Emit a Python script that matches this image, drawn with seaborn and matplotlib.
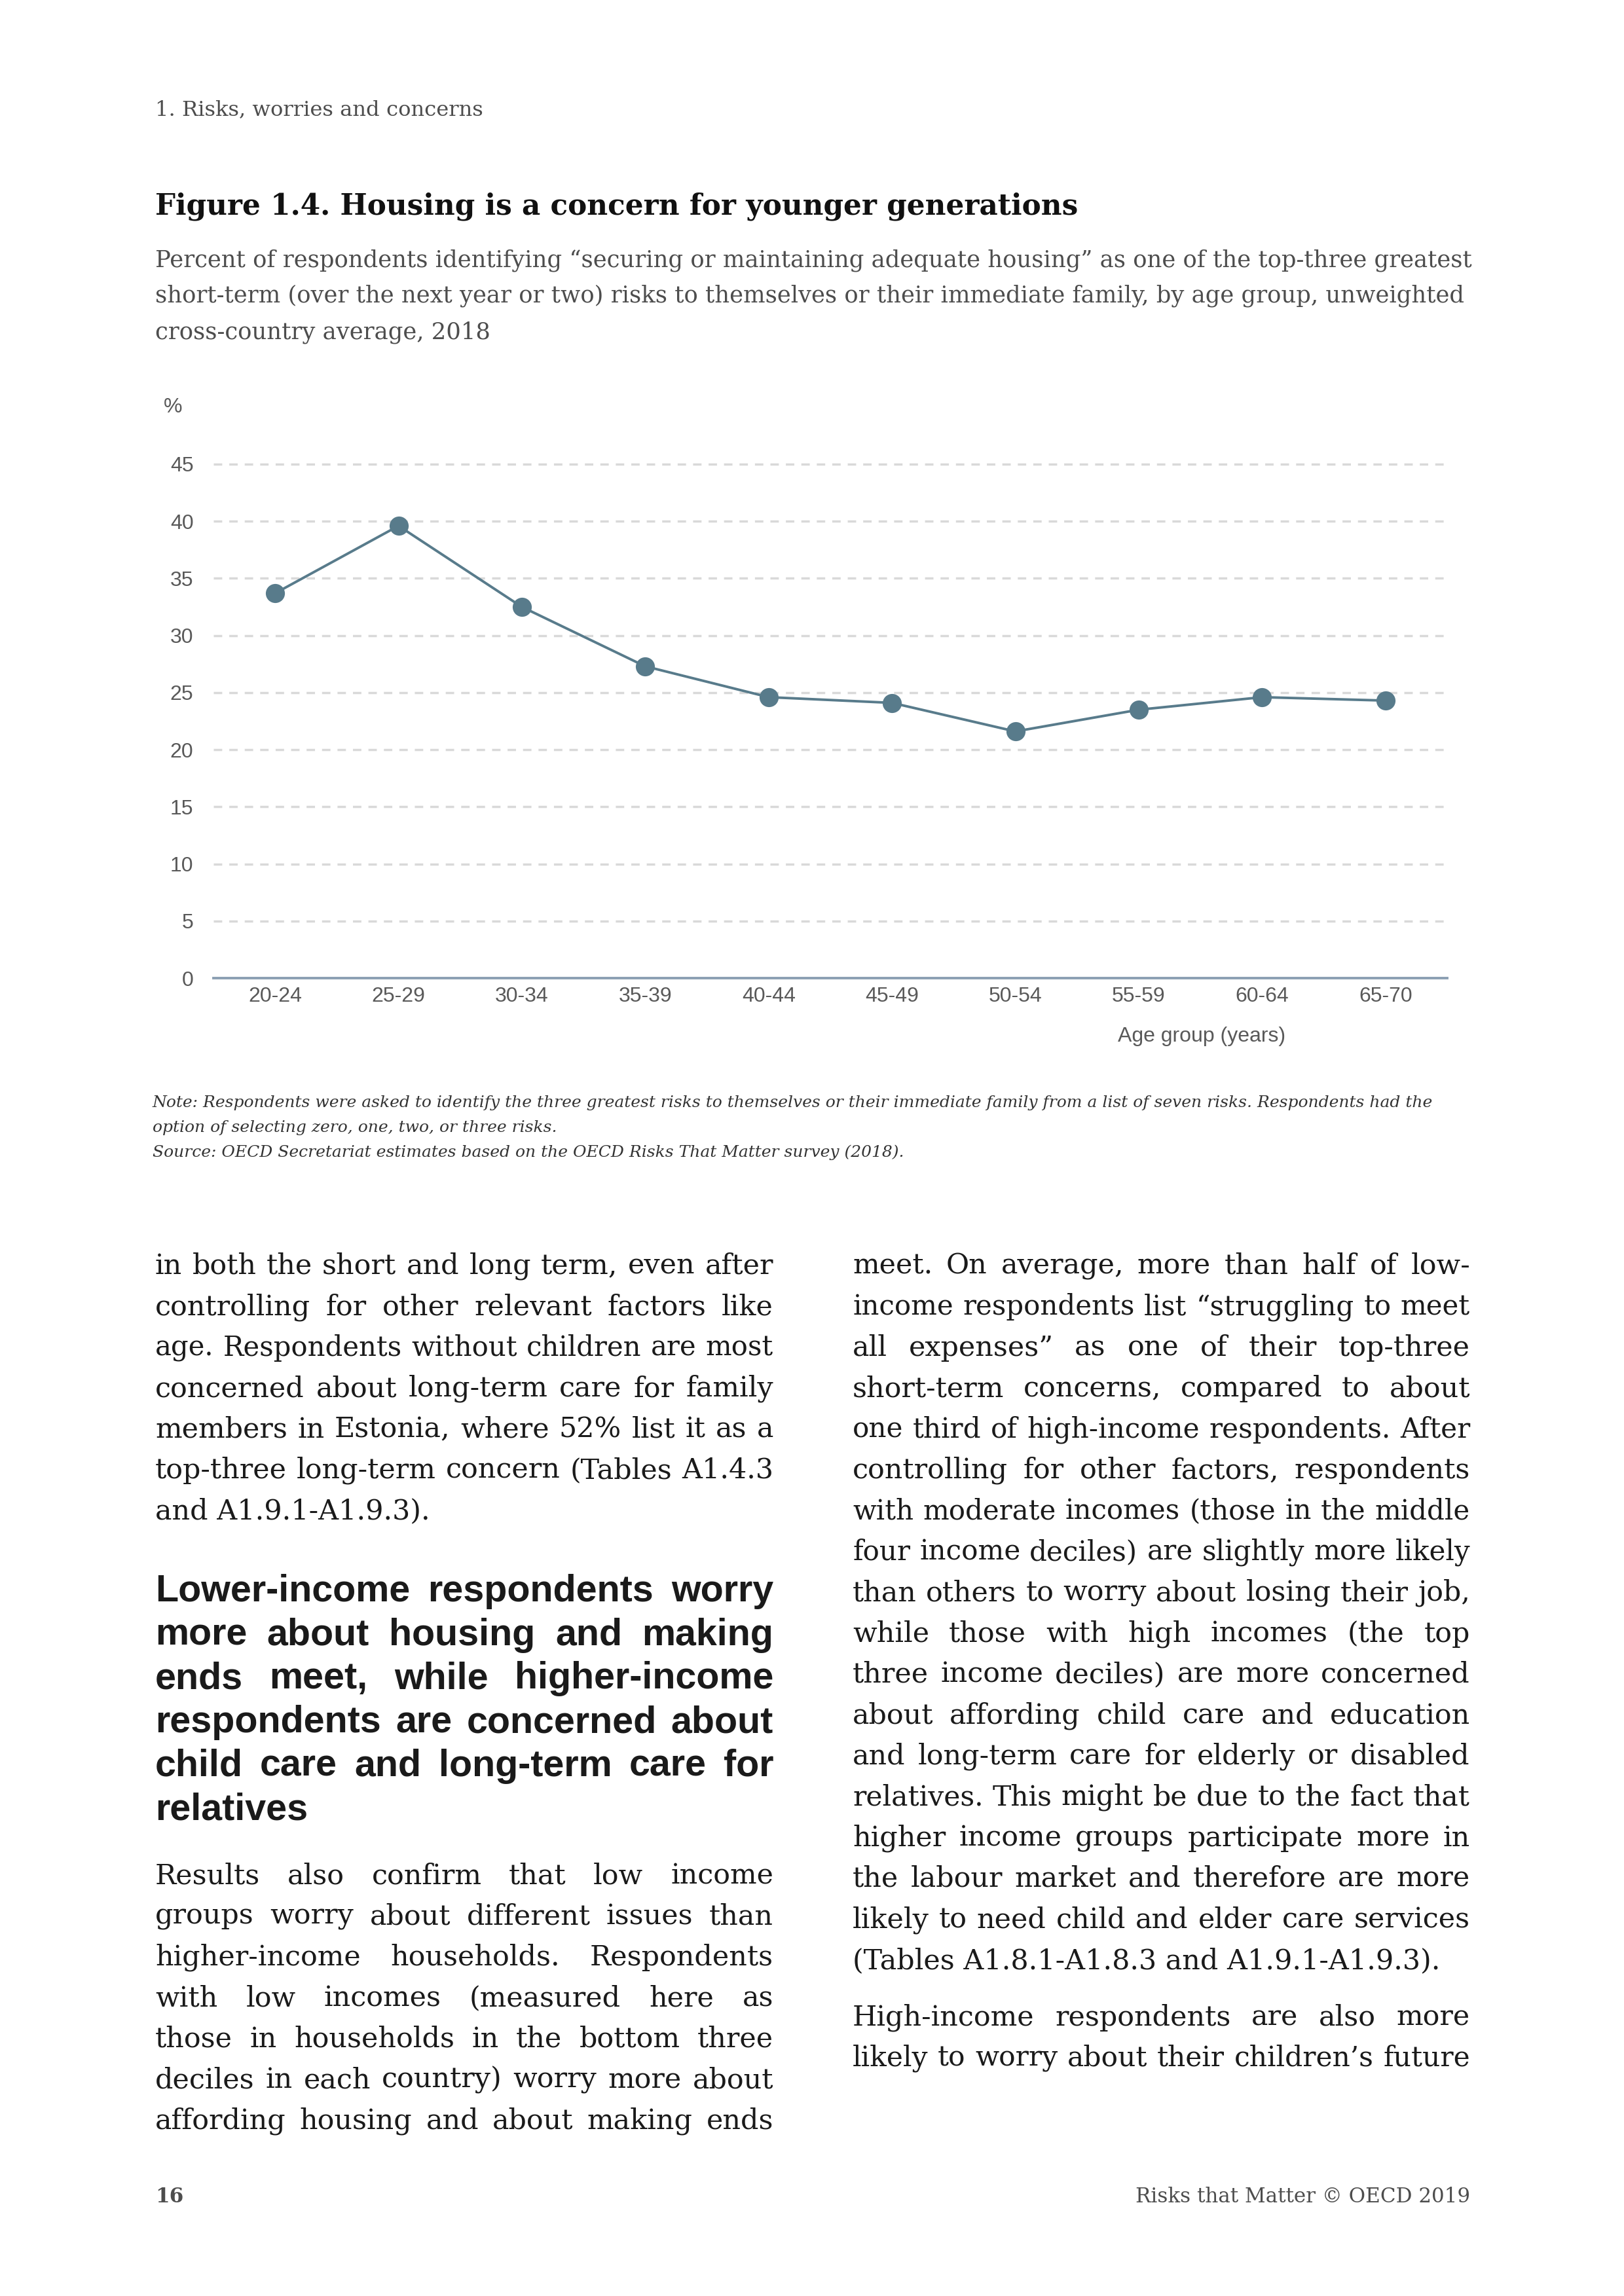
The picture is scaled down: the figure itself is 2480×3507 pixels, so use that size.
import matplotlib
matplotlib.use("Agg")
import matplotlib.pyplot as plt
import seaborn as sns
import pandas as pd

# chart data
age_groups = ["20-24", "25-29", "30-34", "35-39", "40-44", "45-49", "50-54", "55-59", "60-64", "65-70"]
housing_pct = [33.7, 39.6, 32.5, 27.3, 24.6, 24.1, 21.6, 23.5, 24.6, 24.3]
y_ticks = [0, 5, 10, 15, 20, 25, 30, 35, 40, 45]

# page text
header = "1. Risks, worries and concerns"
title = "Figure 1.4. Housing is a concern for younger generations"
subtitle = [
    "Percent of respondents identifying \u201csecuring or maintaining adequate housing\u201d as one of the top-three greatest",
    "short-term (over the next year or two) risks to themselves or their immediate family, by age group, unweighted",
    "cross-country average, 2018",
]
notes = [
    "Note: Respondents were asked to identify the three greatest risks to themselves or their immediate family from a list of seven risks. Respondents had the",
    "option of selecting zero, one, two, or three risks.",
    "Source: OECD Secretariat estimates based on the OECD Risks That Matter survey (2018).",
]
left_par1 = [
    "in both the short and long term, even after",
    "controlling for other relevant factors like",
    "age. Respondents without children are most",
    "concerned about long-term care for family",
    "members in Estonia, where 52% list it as a",
    "top-three long-term concern (Tables A1.4.3",
    "and A1.9.1-A1.9.3).",
]
heading = [
    "Lower-income respondents worry",
    "more about housing and making",
    "ends meet, while higher-income",
    "respondents are concerned about",
    "child care and long-term care for",
    "relatives",
]
left_par2 = [
    "Results also confirm that low income",
    "groups worry about different issues than",
    "higher-income households. Respondents",
    "with low incomes (measured here as",
    "those in households in the bottom three",
    "deciles in each country) worry more about",
    "affording housing and about making ends",
]
right_par1 = [
    "meet. On average, more than half of low-",
    "income respondents list \u201cstruggling to meet",
    "all expenses\u201d as one of their top-three",
    "short-term concerns, compared to about",
    "one third of high-income respondents. After",
    "controlling for other factors, respondents",
    "with moderate incomes (those in the middle",
    "four income deciles) are slightly more likely",
    "than others to worry about losing their job,",
    "while those with high incomes (the top",
    "three income deciles) are more concerned",
    "about affording child care and education",
    "and long-term care for elderly or disabled",
    "relatives. This might be due to the fact that",
    "higher income groups participate more in",
    "the labour market and therefore are more",
    "likely to need child and elder care services",
    "(Tables A1.8.1-A1.8.3 and A1.9.1-A1.9.3).",
]
right_par2 = [
    "High-income respondents are also more",
    "likely to worry about their children\u2019s future",
]
footer_left = "16"
footer_right = "Risks that Matter \u00a9 OECD 2019"

line_color = "#587b8b"
axis_color = "#8b9fb3"
grid_color = "#d9d9d9"
label_color = "#595959"
serif = ["DejaVu Serif"]

sns.set_theme(style="white")
plt.rcParams["font.family"] = ["Liberation Sans", "DejaVu Sans"]

W, H = 2480, 3507
fig = plt.figure(figsize=(24.8, 35.07), dpi=100)
page = fig.add_axes([0, 0, 1, 1])
page.set_xlim(0, W)
page.set_ylim(H, 0)
page.axis("off")
renderer = fig.canvas.get_renderer()


def text_width(s, **kw):
    t = page.text(0, 0, s, **kw)
    w = t.get_window_extent(renderer).width
    t.remove()
    return w


def fit_size(lines, width, start=30, **kw):
    widest = max(text_width(s, fontsize=start, **kw) for s in lines)
    return start * width / widest


def justified(x0, x1, y, line, size, **kw):
    # shrink a line only when it would not fit with normal word spacing
    natural = text_width(line, fontsize=size, **kw)
    if natural > (x1 - x0) * 0.995:
        size = size * (x1 - x0) * 0.995 / natural
    words = line.split(" ")
    texts = [page.text(0, y, w, va="center", ha="left", fontsize=size, **kw) for w in words]
    widths = [t.get_window_extent(renderer).width for t in texts]
    gap = (x1 - x0 - sum(widths)) / (len(words) - 1)
    x = x0
    for t, w in zip(texts, widths):
        t.set_x(x)
        x += w + gap


def block(x0, x1, ys, lines, size, last_justified=False, **kw):
    for i, (y, s) in enumerate(zip(ys, lines)):
        if i == len(lines) - 1 and not last_justified:
            page.text(x0, y, s, va="center", ha="left", fontsize=size, **kw)
        else:
            justified(x0, x1, y, s, size, **kw)


# header / title / subtitle
hs = fit_size([header], 503, family=serif)
page.text(237, 168, header, fontsize=hs, family=serif, color="#4d4d4d", va="center")
ts = fit_size([title], 1409, family=serif, fontweight="bold")
page.text(237, 315, title, fontsize=ts, family=serif, fontweight="bold", color="#111111", va="center")
ss = fit_size(subtitle[:1], 2011, family=serif)
for y, s in zip([398, 452, 508], subtitle):
    page.text(237, y, s, fontsize=ss, family=serif, color="#4d4d4d", va="center")

# chart
per_unit = (1494 - 709) / 45
ymax = 47
ax = fig.add_axes([326 / W, 1 - 1494 / H, (2210 - 326) / W, ymax * per_unit / H])
df = pd.DataFrame({"age": age_groups, "pct": housing_pct})
sns.lineplot(data=df, x="age", y="pct", ax=ax, sort=False, color=line_color, linewidth=2.8,
             marker="o", markersize=21, markeredgewidth=0, zorder=3)
ax.set_xlim(-0.5, len(age_groups) - 0.5)
ax.set_ylim(0, ymax)
ax.set_yticks(y_ticks)
ax.set_xlabel("")
ax.set_ylabel("")
ax.yaxis.grid(True, color=grid_color, linewidth=2.5, linestyle=(0, (3.7, 3.1)))
ax.xaxis.grid(False)
ax.set_axisbelow(True)
for side in ["top", "right", "left"]:
    ax.spines[side].set_visible(False)
ax.spines["bottom"].set_color(axis_color)
ax.spines["bottom"].set_linewidth(2.8)
ax.spines["bottom"].set_zorder(4)
ax.tick_params(axis="y", length=0, pad=22, labelsize=23, labelcolor=label_color)
ax.tick_params(axis="x", length=0, pad=9, labelsize=23, labelcolor=label_color)
ax.patch.set_alpha(0)
page.text(264, 622, "%", fontsize=23, color=label_color, ha="center", va="center")
page.text(1835, 1583, "Age group (years)", fontsize=23, color=label_color, ha="center", va="center")

# notes
ns = fit_size(notes[:1], 1958, family=serif, style="italic")
for y, s in zip([1684, 1722, 1760], notes):
    page.text(233, y, s, fontsize=ns, family=serif, style="italic", color="#333333", va="center")

# body text: base size set by a typical line, long lines shrink a little
LX0, LX1, RX0, RX1 = 237, 1181, 1302, 2245
body_lines = left_par1[:-1] + left_par2 + right_par1[:-1] + right_par2
ratios = sorted(text_width(s, fontsize=30, family=serif) / 944 for s in body_lines)
bs = 30 * 0.97 / ratios[len(ratios) // 2]
body_kw = dict(family=serif, color="#1a1a1a")

step = 62.4
block(LX0, LX1, [1934 + step * i for i in range(7)], left_par1, bs, **body_kw)
hsz = fit_size(heading[:-1], 944 * 0.98, fontweight="bold")
block(LX0, LX1, [2431 + 66.7 * i for i in range(6)], heading, hsz, fontweight="bold", color="#1a1a1a")
block(LX0, LX1, [2865 + step * i for i in range(7)], left_par2, bs, last_justified=True, **body_kw)
block(RX0, RX1, [1934 + step * i for i in range(18)], right_par1, bs, **body_kw)
block(RX0, RX1, [3082, 3144], right_par2, bs, last_justified=True, **body_kw)

# footer
fs = fit_size([footer_right], 512, family=serif)
page.text(237, 3355, footer_left, fontsize=fs, family=serif, fontweight="bold", color="#4d4d4d", va="center")
page.text(2245, 3355, footer_right, fontsize=fs, family=serif, color="#4d4d4d", va="center", ha="right")

fig.savefig("out.png", dpi=100, facecolor="white")
